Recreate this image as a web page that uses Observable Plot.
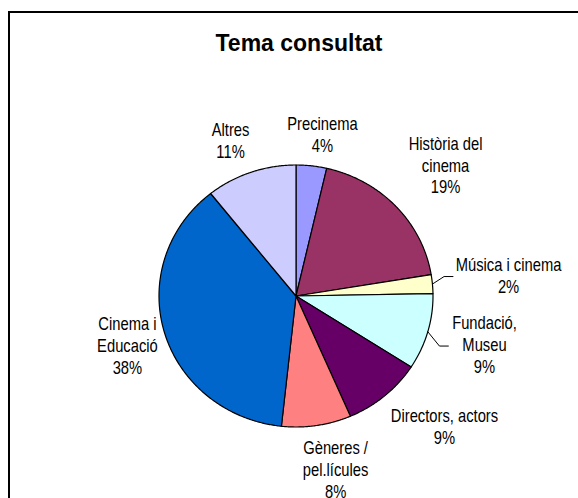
<!DOCTYPE html>
<html><head><meta charset="utf-8">
<script src="https://cdn.jsdelivr.net/npm/d3@7"></script>
<script src="https://cdn.jsdelivr.net/npm/@observablehq/plot@0.6"></script>
<style>
body{margin:0;background:#fff;}
#wrap{position:relative;width:578px;height:498px;overflow:hidden;background:#fff;}
#border{position:absolute;left:8px;top:11px;width:620px;height:620px;border:2px solid #000;box-sizing:border-box;}
#chart{position:absolute;left:0;top:0;}
#title{position:absolute;top:32px;left:0;width:598px;text-align:center;font:bold 23px/23px "Liberation Sans",Arial,sans-serif;color:#000;}
</style></head><body>
<div id="wrap"><div id="border"></div><div id="chart"></div><div id="title">Tema consultat</div></div>
<script>
// ---- data ----
const categories = ["Precinema","Història del cinema","Música i cinema","Fundació, Museu","Directors, actors","Gèneres / pel.lícules","Cinema i Educació","Altres"];
const labelText = ["Precinema","Història del\ncinema","Música i cinema","Fundació,\nMuseu","Directors, actors","Gèneres /\npel.lícules","Cinema i\nEducació","Altres"];
const values = [3.6,18.8,2.3,9.4,9.4,8.2,37.6,10.7];
const colors = ["#9999FF","#993366","#FFFFCC","#CCFFFF","#660066","#FF8080","#0066CC","#CCCCFF"];

// ---- layout (label placement relative to each slice) ----
const labelRadius = [1.253,1.483,1.56,1.424,1.467,1.352,1.286,1.283];
const labelAngleShift = [2.4,0.6,-0.8,-0.9,-7.3,-3.7,-0.7,-2.6]; // degrees
const hasLeader = [false,false,true,true,false,false,false,false];

const W = 578, H = 498, cx = 295.5, cy = 295.5, rx = 137, ry = 131;
const total = d3.sum(values);
const arcs = d3.pie().sort(null).value(d => d)(values);

const slicePts = [];
const labels = [];
const leaders = [];
arcs.forEach((a, i) => {
  const name = categories[i];
  const n = Math.max(2, Math.ceil((a.endAngle - a.startAngle) / (Math.PI / 360)));
  slicePts.push({name, x: 0, y: 0});
  for (let k = 0; k <= n; k++) {
    const t = a.startAngle + (a.endAngle - a.startAngle) * k / n;
    slicePts.push({name, x: Math.sin(t), y: Math.cos(t)});
  }
  slicePts.push({name, x: 0, y: 0});
  const mid = (a.startAngle + a.endAngle) / 2;
  const la = mid + labelAngleShift[i] * Math.PI / 180;
  const lx = labelRadius[i] * Math.sin(la), ly = labelRadius[i] * Math.cos(la);
  const pct = Math.round(values[i] / total * 100) + "%";
  labels.push({name, x: lx, y: ly, text: labelText[i] + "\n" + pct});
  if (hasLeader[i]) {
    const ex = Math.sin(mid), ey = Math.cos(mid);
    const hy = ly - 0.015;
    leaders.push({name, x: ex, y: ey});
    leaders.push({name, x: ex + 0.085, y: hy});
    leaders.push({name, x: ex + 0.15, y: hy});
  }
});

const chart = Plot.plot({
  width: W, height: H, margin: 0,
  x: {domain: [-cx / rx, (W - cx) / rx], axis: null},
  y: {domain: [-(H - cy) / ry, cy / ry], axis: null},
  color: {domain: categories, range: colors},
  style: {background: "none", overflow: "visible"},
  marks: [
    Plot.line(slicePts, {x: "x", y: "y", z: "name", fill: "name", stroke: "#000", strokeWidth: 1.2, strokeLinejoin: "round"}),
    Plot.line(leaders, {x: "x", y: "y", z: "name", stroke: "#000", strokeWidth: 1}),
    Plot.text(labels, {x: "x", y: "y", text: "text", fill: "#000", fontSize: 18, lineHeight: 1.22,
      fontFamily: "'Liberation Sans Narrow','Arial Narrow','Liberation Sans',Arial,sans-serif",
      textAnchor: "middle", lineAnchor: "middle"})
  ]
});
// condensed look of the original labels (no narrow font installed)
chart.querySelectorAll('g[aria-label="text"] text').forEach(t => {
  const tr = t.getAttribute("transform");
  if (tr && tr.includes("translate")) t.setAttribute("transform", tr + " scale(0.82,1)");
});
document.getElementById("chart").appendChild(chart);
</script>
</body></html>
